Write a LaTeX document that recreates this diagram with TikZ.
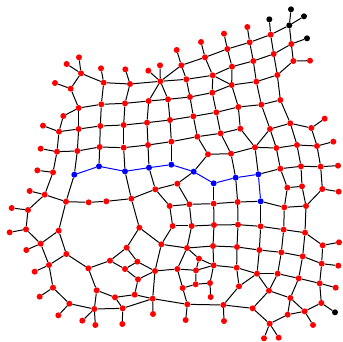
\documentclass[tikz,border=0pt]{standalone}
\usetikzlibrary{backgrounds}
\tikzset{
  dot/.style={circle,inner sep=0pt,minimum size=6pt,draw=none},
  rd/.style={dot,fill=red},
  bl/.style={dot,fill=blue},
  bk/.style={dot,fill=black},
  edge/.style={draw=black,line width=1pt},
  bedge/.style={draw=blue,line width=1pt}
}
\begin{document}
\begin{tikzpicture}[x=1pt,y=-1pt]
\useasboundingbox (0,0) rectangle (343,342);
% top-left
\begin{scope}
\foreach \x/\y in {237/172,200/192,243/220,165/249,212/266,303/205,311/248,376/208,390/252,445/212,480/196,481/244,
236/324,304/313,375/310,446/303,504/298,190/348,129/377,177/395,236/387,301/378,371/375,441/368,510/360,122/446,171/455,232/453,299/441,371/443,444/435,514/425,112/511,159/517}
  \node[rd] (A\x-\y) at (\x/3,\y/3) {};
\foreach \x/\y in {297/499,375/514,447/503,514/494}
  \node[bl] (A\x-\y) at (\x/3,\y/3) {};
\end{scope}
% top-right
\begin{scope}[shift={(171,0)}]
\foreach \x/\y in {229/81,159/101,90/126,17/150,299/104,236/127,169/147,102/172,31/196,361/132,308/162,247/183,183/200,125/226,46/238,367/183,417/182,319/225,256/245,182/255,124/278,57/291,328/300,271/314,202/321,136/337,67/349,358/370,297/387,208/386,149/400,79/410,461/356,421/384,487/425,438/438,378/435,316/444,252/442,180/461,111/463,501/497,449/500,390/499,328/506}
  \node[rd] (B\x-\y) at (\x/3,\y/3) {};
\foreach \x/\y in {360/28,399/49,295/58,355/76,408/115}
  \node[bk] (B\x-\y) at (\x/3,\y/3) {};
\end{scope}
% bottom-left
\begin{scope}[shift={(0,170)}]
\foreach \x/\y in {89/63,134/74,198/95,266/97,319/94,394/86,466/58,509/108,484/223,35/114,84/120,78/178,29/187,176/182,122/221,79/240,199/252,147/285,104/305,265/295,330/272,380/233,418/173,412/275,375/297,465/303,414/328,290/361,345/382,404/374,458/386,159/353,119/380,208/401,175/436,283/417,368/415,459/432,247/452,286/465,367/462}
  \node[rd] (C\x-\y) at (\x/3,\y/3) {};
\node[bl] (C223-14) at (223/3,14/3) {};
\end{scope}
% bottom-right
\begin{scope}[shift={(171,170)}]
\foreach \x/\y in {19/41,349/53,393/49,454/57,503/65,55/103,128/101,200/96,340/112,405/108,5/168,62/168,129/165,201/164,269/169,338/179,402/188,455/226,504/217,48/234,126/228,198/231,265/240,331/247,395/259,452/281,502/287,84/266,128/286,19/297,75/301,197/293,258/311,320/311,383/325,446/340,494/353,35/354,74/343,117/339,119/381,204/349,294/362,358/384,49/403,157/405,245/415,451/399,401/424,350/434,426/465,296/461,279/505,323/503,44/450,159/453}
  \node[rd] (D\x-\y) at (\x/3,\y/3) {};
\foreach \x/\y in {68/5,128/40,194/23,262/13,269/94}
  \node[bl] (D\x-\y) at (\x/3,\y/3) {};
\node[bk] (D492-427) at (492/3,427/3) {};
\end{scope}
\begin{pgfonlayer}{background}
% top-left edges
\foreach \a/\b in {A237-172/A243-220,A200-192/A243-220,A243-220/A212-266,A165-249/A212-266,A243-220/A311-248,A303-205/A311-248,A311-248/A390-252,A376-208/A390-252,A390-252/A481-244,A445-212/A481-244,A480-196/A481-244,A481-244/B31-196,A481-244/A446-303,A481-244/A504-298,A212-266/A236-324,A236-324/A190-348,A190-348/A177-395,A129-377/A177-395,A177-395/A171-455,A177-395/A236-387,A236-324/A236-387,A236-324/A304-313,A304-313/A375-310,A375-310/A446-303,A446-303/A504-298,A311-248/A304-313,A390-252/A375-310,A304-313/A301-378,A375-310/A371-375,A446-303/A441-368,A504-298/A510-360,A236-387/A301-378,A301-378/A371-375,A371-375/A441-368,A441-368/A510-360,A236-387/A232-453,A301-378/A299-441,A371-375/A371-443,A441-368/A444-435,A510-360/A514-425,A171-455/A232-453,A232-453/A299-441,A299-441/A371-443,A371-443/A444-435,A444-435/A514-425,A122-446/A171-455,A171-455/A159-517,A232-453/C223-14,A112-511/A159-517,A159-517/C134-74,A299-441/A297-499,A371-443/A375-514,A444-435/A447-503,A514-425/A514-494}
  \draw[edge] (\a) -- (\b);
% top-right edges
\foreach \a/\b in {B17-150/B31-196,B90-126/B102-172,B159-101/B169-147,B229-81/B236-127,B295-58/B299-104,B31-196/B102-172,B102-172/B169-147,B169-147/B236-127,B236-127/B299-104,B299-104/B355-76,B355-76/B360-28,B355-76/B399-49,B355-76/B361-132,B361-132/B408-115,B361-132/B308-162,B308-162/B247-183,B247-183/B183-200,B183-200/B125-226,B125-226/B46-238,B46-238/A481-244,B31-196/B46-238,B102-172/B125-226,B169-147/B183-200,B236-127/B247-183,B299-104/B308-162,B361-132/B367-183,B367-183/B417-182,B367-183/B319-225,B308-162/B319-225,B319-225/B256-245,B256-245/B182-255,B182-255/B124-278,B124-278/B57-291,B57-291/A504-298,B247-183/B256-245,B183-200/B182-255,B125-226/B182-255,B125-226/B124-278,B46-238/B57-291,B182-255/B202-321,B124-278/B136-337,B57-291/B67-349,B256-245/B271-314,B319-225/B328-300,B328-300/B271-314,B271-314/B202-321,B202-321/B136-337,B136-337/B67-349,B67-349/A510-360,B328-300/B358-370,B271-314/B297-387,B202-321/B208-386,B136-337/B149-400,B67-349/B79-410,B358-370/B297-387,B358-370/B421-384,B421-384/B461-356,B358-370/B378-435,B421-384/B438-438,B297-387/B316-444,B297-387/B252-442,B208-386/B252-442,B208-386/B149-400,B149-400/B79-410,B79-410/A514-425,B149-400/B180-461,B79-410/B111-463,B111-463/B180-461,B180-461/B252-442,B252-442/B316-444,B316-444/B378-435,B378-435/B438-438,B438-438/B487-425,B252-442/D262-13,B180-461/D194-23,B378-435/B390-499,B316-444/B328-506,B438-438/B449-500,B328-506/B390-499,B390-499/B449-500,B449-500/B501-497,D262-13/B328-506,B111-463/D68-5}
  \draw[edge] (\a) -- (\b);
% bottom-left edges
\foreach \a/\b in {C484-223/C465-303,C418-173/C484-223,C394-86/C418-173,C418-173/C380-233,C380-233/C330-272,C380-233/C412-275,C412-275/C375-297,C412-275/C465-303,C330-272/C375-297,C375-297/C414-328,C414-328/C465-303,C414-328/C404-374,C404-374/C345-382,C345-382/C290-361,C290-361/C265-295,C265-295/C330-272,C265-295/C199-252,C199-252/C176-182,C176-182/C198-95,C176-182/C122-221,C122-221/C78-178,C78-178/C84-120,C84-120/C134-74,C134-74/C198-95,C198-95/C266-97,C266-97/C319-94,C319-94/C394-86,C394-86/C466-58,C198-95/C223-14,C89-63/C134-74,C35-114/C84-120,C29-187/C78-178,C79-240/C122-221,C122-221/C147-285,C147-285/C199-252,C104-305/C147-285,C147-285/C159-353,C119-380/C159-353,C159-353/C208-401,C175-436/C208-401,C208-401/C283-417,C283-417/C290-361,C283-417/C247-452,C283-417/C286-465,C283-417/C368-415,C368-415/C345-382,C368-415/C367-462,C368-415/C458-386,C458-386/C404-374,C458-386/C465-303,C458-386/C459-432,C394-86/A375-514,C466-58/A447-503,C466-58/C509-108,C509-108/D5-168,D5-168/C484-223,C466-58/D19-41,C509-108/D55-103,C484-223/D48-234,C465-303/D19-297,C458-386/D49-403}
  \draw[edge] (\a) -- (\b);
% bottom-right edges
\foreach \a/\b in {D19-41/D68-5,D19-41/D55-103,D55-103/D128-101,D128-101/D200-96,D200-96/D269-94,D128-40/D128-101,D194-23/D200-96,D128-101/D129-165,D200-96/D201-164,D55-103/D62-168,D269-94/D269-169,D269-94/D340-112,D340-112/D338-179,D405-108/D402-188,D340-112/D405-108,D349-53/D340-112,D393-49/D405-108,D349-53/D393-49,D454-57/D405-108,D454-57/D503-65,D349-53/B328-506,D393-49/B390-499,D454-57/B449-500,D5-168/D62-168,D62-168/D129-165,D129-165/D201-164,D201-164/D269-169,D269-169/D338-179,D338-179/D402-188,D402-188/D455-226,D455-226/D504-217,D62-168/D48-234,D129-165/D126-228,D201-164/D198-231,D269-169/D265-240,D338-179/D331-247,D402-188/D395-259,D455-226/D452-281,D48-234/D126-228,D126-228/D198-231,D198-231/D265-240,D265-240/D331-247,D331-247/D395-259,D395-259/D452-281,D452-281/D502-287,D48-234/D19-297,D48-234/D84-266,D84-266/D128-286,D84-266/D75-301,D19-297/D75-301,D75-301/D128-286,D75-301/D74-343,D19-297/D35-354,D35-354/D74-343,D74-343/D117-339,D117-339/D128-286,D117-339/D119-381,D126-228/D128-286,D128-286/D197-293,D197-293/D258-311,D198-231/D197-293,D197-293/D204-349,D204-349/D258-311,D204-349/D157-405,D265-240/D258-311,D258-311/D320-311,D258-311/D294-362,D320-311/D294-362,D331-247/D320-311,D320-311/D383-325,D395-259/D383-325,D383-325/D446-340,D383-325/D358-384,D452-281/D446-340,D446-340/D494-353,D446-340/D451-399,D294-362/D358-384,D294-362/D245-415,D358-384/D401-424,D358-384/D350-434,D451-399/D401-424,D451-399/D492-427,D401-424/D350-434,D401-424/D426-465,D350-434/D296-461,D245-415/D296-461,D296-461/D279-505,D296-461/D323-503,D245-415/D157-405,D157-405/D49-403,D157-405/D159-453,D49-403/D44-450,D49-403/D35-354}
  \draw[edge] (\a) -- (\b);
% blue path
\foreach \a/\b in {C223-14/A297-499,A297-499/A375-514,A375-514/A447-503,A447-503/A514-494,A514-494/D68-5,D68-5/D128-40,D128-40/D194-23,D194-23/D262-13,D262-13/D269-94}
  \draw[bedge] (\a) -- (\b);
\end{pgfonlayer}
\end{tikzpicture}
\end{document}
